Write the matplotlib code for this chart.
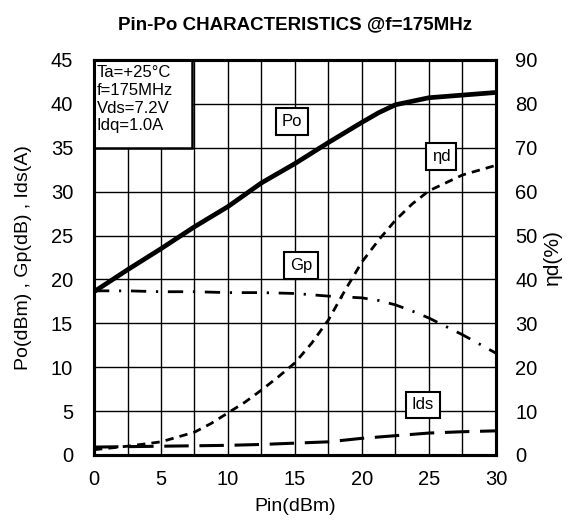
import numpy as np
import matplotlib.pyplot as plt
from matplotlib.patches import Rectangle

plt.rcParams['font.family'] = ['Liberation Sans', 'DejaVu Sans']

# data
pin = [0, 2.5, 5, 7.5, 10, 12.5, 15, 17.5, 20, 21.25, 22.5, 23.75, 25, 27.5, 30]
po = [18.6, 21.1, 23.5, 26.0, 28.3, 31.0, 33.2, 35.6, 37.9, 39.0, 39.9, 40.3, 40.7, 41.0, 41.3]
gp = [18.7, 18.7, 18.6, 18.6, 18.5, 18.5, 18.4, 18.1, 17.9, 17.6, 17.1, 16.4, 15.6, 13.7, 11.6]
ids = [0.9, 0.95, 1.0, 1.05, 1.1, 1.2, 1.35, 1.5, 1.9, 2.05, 2.2, 2.35, 2.5, 2.65, 2.75]

pin_eta = [0, 2.5, 5, 7.5, 8.75, 10, 11.25, 12.5, 13.75, 15, 16.25, 17.5, 18.75,
           20, 21.25, 22.5, 23.75, 25, 27.5, 30]
eta = [1.2, 2.0, 3.0, 5.2, 7.2, 9.6, 12.0, 14.8, 17.8, 21.0, 25.5, 30.8, 37.6,
       44.0, 49.0, 53.5, 57.2, 60.2, 63.8, 66.0]

xticks = [0, 5, 10, 15, 20, 25, 30]
yticks_l = [0, 5, 10, 15, 20, 25, 30, 35, 40, 45]
yticks_r = [0, 10, 20, 30, 40, 50, 60, 70, 80, 90]

fig = plt.figure(figsize=(5.68, 5.29), dpi=100)
ax = fig.add_axes([0.1655, 0.1399, 0.7077, 0.7467])
ax2 = ax.twinx()

ax.set_xlim(0, 30)
ax.set_ylim(0, 45)
ax2.set_ylim(0, 90)

# grid: 2.5 in x, 5 in y
for gx in np.arange(2.5, 30, 2.5):
    ax.axvline(gx, color='black', lw=1.0, zorder=1)
for gy in np.arange(5, 45, 5):
    ax.axhline(gy, color='black', lw=1.0, zorder=1)

ax.plot(pin, po, color='black', lw=3.4, solid_capstyle='butt', solid_joinstyle='round', zorder=3)
ax.plot(pin, gp, color='black', lw=2.0, dashes=(5.5, 3.5, 0.8, 3.5), zorder=3)
ax.plot(pin, ids, color='black', lw=2.2, dashes=(8, 3.5), zorder=3)
ax2.plot(pin_eta, eta, color='black', lw=2.0, dashes=(3, 2.2), zorder=3)

ax.set_xticks(xticks)
ax.set_yticks(yticks_l)
ax2.set_yticks(yticks_r)
ax.tick_params(axis='x', length=0, labelsize=14.5, pad=11)
ax.tick_params(axis='y', length=0, labelsize=14.5, pad=15)
ax2.tick_params(length=0, labelsize=14.5, pad=14)

for a in (ax, ax2):
    for s in a.spines.values():
        s.set_linewidth(2.2)

ax.set_xlabel('Pin(dBm)', fontsize=14)
ax.set_ylabel('Po(dBm) , Gp(dB) , Ids(A)', fontsize=14)
ax2.set_ylabel('ηd(%)', fontsize=15)
ax.xaxis.set_label_coords(0.5, -0.11)
ax.yaxis.set_label_coords(-0.154, 0.5)
ax2.yaxis.set_label_coords(1.117, 0.5)
ax.set_title('Pin-Po CHARACTERISTICS @f=175MHz', fontsize=13.5, fontweight='bold', pad=22)

# condition box
ax.add_patch(Rectangle((0, 35), 7.3, 10, fc='white', ec='black', lw=1.8, zorder=4))
ax.text(0.2, 44.45, 'Ta=+25°C\nf=175MHz\nVds=7.2V\nIdq=1.0A',
        ha='left', va='top', fontsize=12, linespacing=1.24, zorder=5)

box = dict(boxstyle='square,pad=0.35', fc='white', ec='black', lw=1.5)
ax.text(14.8, 38.0, 'Po', ha='center', va='center', fontsize=12, bbox=box, zorder=5)
ax.text(15.45, 21.6, 'Gp', ha='center', va='center', fontsize=12, bbox=box, zorder=5)
ax.text(25.9, 34.0, 'ηd', ha='center', va='center', fontsize=12, bbox=box, zorder=5)
ax.text(24.55, 5.7, 'Ids', ha='center', va='center', fontsize=12, bbox=box, zorder=5)

fig.savefig('out.png', dpi=100)
